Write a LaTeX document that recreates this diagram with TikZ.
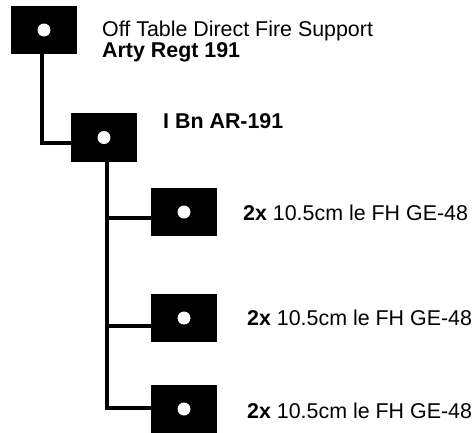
\documentclass[tikz,border=0pt]{standalone}
\usepackage{fontspec}
\setmainfont{Liberation Sans}
\usepackage{tikz}

\tikzset{
  unitbox/.style={fill=black, minimum width=66pt, minimum height=48pt, inner sep=0pt},
  link/.style={line width=4pt},
  lbl/.style={anchor=base west, inner sep=0pt, font=\fontsize{21.4}{19}\selectfont},
}

\begin{document}
\begin{tikzpicture}[x=1pt,y=-1pt]
  \useasboundingbox (0,0) rectangle (472,432);
  % units
  \node[unitbox] (regt) at (44,30) {};
  \node[unitbox, minimum height=49pt] (bn) at (104,137.5) {};
  \node[unitbox] (bat1) at (184,212) {};
  \node[unitbox] (bat2) at (184,318) {};
  \node[unitbox] (bat3) at (184,409) {};
  \foreach \u in {regt,bn,bat1,bat2,bat3}
    \fill[white] (\u) circle (6.5);
  % links
  \draw[link] ([xshift=-2pt]regt.south) |- ([yshift=-5.5pt]bn.west);
  \draw[link] ([xshift=3pt]bn.south) |- ([yshift=-6pt]bat1.west);
  \draw[link] ([xshift=3pt]bn.south) |- ([yshift=-8pt]bat2.west);
  \draw[link] ([xshift=3pt]bn.south) |- ([yshift=1pt]bat3.west);
  % labels
  \node[lbl, align=left] (regtname) at (102,57)
    {Off Table Direct Fire Support\\\bfseries Arty Regt 191};
  \node[lbl] (bnname) at (163,128) {\bfseries I Bn AR-191};
  \node[lbl] (bat1name) at (243,220) {\textbf{2x} 10.5cm le FH GE-48};
  \node[lbl] (bat2name) at (247,325) {\textbf{2x} 10.5cm le FH GE-48};
  \node[lbl] (bat3name) at (247,418) {\textbf{2x} 10.5cm le FH GE-48};
\end{tikzpicture}
\end{document}
